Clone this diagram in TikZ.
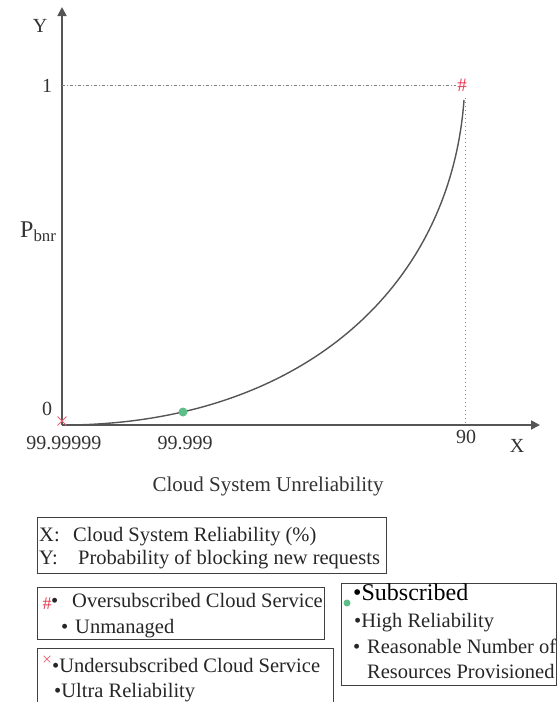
\documentclass[tikz,border=0pt]{standalone}
\usepackage{fontspec}
\setmainfont{Liberation Serif}
\usetikzlibrary{arrows.meta,shapes.misc}
\definecolor{axisgray}{HTML}{555555}
\definecolor{hashred}{HTML}{E8384F}
\definecolor{dotgreen}{HTML}{5DBE8A}
\begin{document}
\begin{tikzpicture}[x=1pt,y=-1pt,
  axisline/.style={draw=axisgray,line width=1.8pt,-{Triangle[length=9pt,width=9pt]}},
  guide/.style={draw=gray,line width=1pt,dash pattern=on 3pt off 2pt on 1pt off 2pt},
  lbl/.style={font=\fontsize{20}{22}\selectfont,text=black!80,inner sep=0pt},
  legbox/.style={draw=black!75,line width=1.1pt,inner sep=0pt},
  legtxt/.style={font=\fontsize{20.5}{22}\selectfont,text=black!85,anchor=base west,inner sep=0pt},
  redx/.style={cross out,draw=hashred!80,line width=0.9pt,inner sep=0pt}]
\useasboundingbox (0,0) rectangle (558,702);
% axes
\coordinate (O) at (62,425);
\coordinate (Ytip) at (62,7);
\coordinate (Xtip) at (540,425);
\draw[axisline] (O) -- (Ytip);
\draw[axisline] (O) -- (Xtip);
% guides
\coordinate (Y1) at (62,85);
\coordinate (H) at (456,85);
\coordinate (V1) at (465,98);
\coordinate (V0) at (465,425);
\draw[guide] (Y1) -- (H);
\draw[draw=gray,line width=1pt,dash pattern=on 1pt off 3pt] (V1) -- (V0);
% curve
\coordinate (C0) at (72,425);
\coordinate (C1) at (464,100);
\draw[draw=axisgray,line width=1.4pt] (C0) .. controls (300,421) and (450,290) .. (C1);
% markers
\node[text=hashred,font=\fontsize{19}{19}\selectfont,inner sep=0pt] (hash) at (462,85) {\#};
\node[redx,minimum size=8pt] (cross) at (62,421) {};
\node[circle,fill=dotgreen,inner sep=0pt,minimum size=9pt] (gdot) at (183,412) {};
% labels
\node[lbl] (ylab) at (40,26) {Y};
\node[lbl] (one) at (47,86) {1};
\node[lbl] (zero) at (47,409) {0};
\node[lbl,font=\fontsize{24}{24}\selectfont,anchor=west] (pbnr) at (20,232) {P\textsubscript{bnr}};
\node[lbl] (t1) at (64,443) {99.99999};
\node[lbl] (t2) at (185,443) {99.999};
\node[lbl] (t3) at (466,437) {90};
\node[lbl,font=\fontsize{20}{20}\selectfont] (xlab) at (517,446) {X};
\node[lbl,font=\fontsize{21}{22}\selectfont] (title) at (268,486) {Cloud System Unreliability};
% legend 1
\node[legbox,minimum width=349pt,minimum height=56pt,anchor=north west] (b1) at (37,517) {};
\node[legtxt] (b1x) at (39,541) {X:};
\node[legtxt] (b1a) at (73,541) {Cloud System Reliability (\%)};
\node[legtxt] (b1y) at (39,564) {Y:};
\node[legtxt] (b1b) at (78,564) {Probability of blocking new requests};
% legend 2
\node[legbox,minimum width=287pt,minimum height=52pt,anchor=north west] (b2) at (37,587) {};
\node[text=hashred,font=\fontsize{18}{18}\selectfont,inner sep=0pt] (b2h) at (47,604) {\#};
\node[legtxt] (b2a) at (51,607) {•};
\node[legtxt] (b2at) at (72,607) {Oversubscribed Cloud Service};
\node[legtxt] (b2b) at (61,633) {•};
\node[legtxt] (b2bt) at (75,633) {Unmanaged};
% legend 3
\node[legbox,minimum width=296pt,minimum height=70pt,anchor=north west] (b3) at (37,648) {};
\node[redx,minimum size=6pt,line width=0.7pt] (b3x) at (47,659) {};
\node[legtxt] (b3a) at (52,672) {•Undersubscribed Cloud Service};
\node[legtxt] (b3b) at (54,697) {•Ultra Reliability};
% legend 4
\node[legbox,minimum width=215pt,minimum height=102pt,anchor=north west] (b4) at (341,583) {};
\node[circle,fill=dotgreen,inner sep=0pt,minimum size=7pt] (b4g) at (347,603) {};
\node[legtxt,font=\fontsize{24}{24}\selectfont,text=black] (b4a) at (353,600) {•Subscribed};
\node[legtxt] (b4b) at (354,627) {•High Reliability};
\node[legtxt] (b4c) at (353,653) {•};
\node[legtxt] (b4ct) at (367,653) {Reasonable Number of};
\node[legtxt] (b4d) at (367,678) {Resources Provisioned};
\end{tikzpicture}
\end{document}
